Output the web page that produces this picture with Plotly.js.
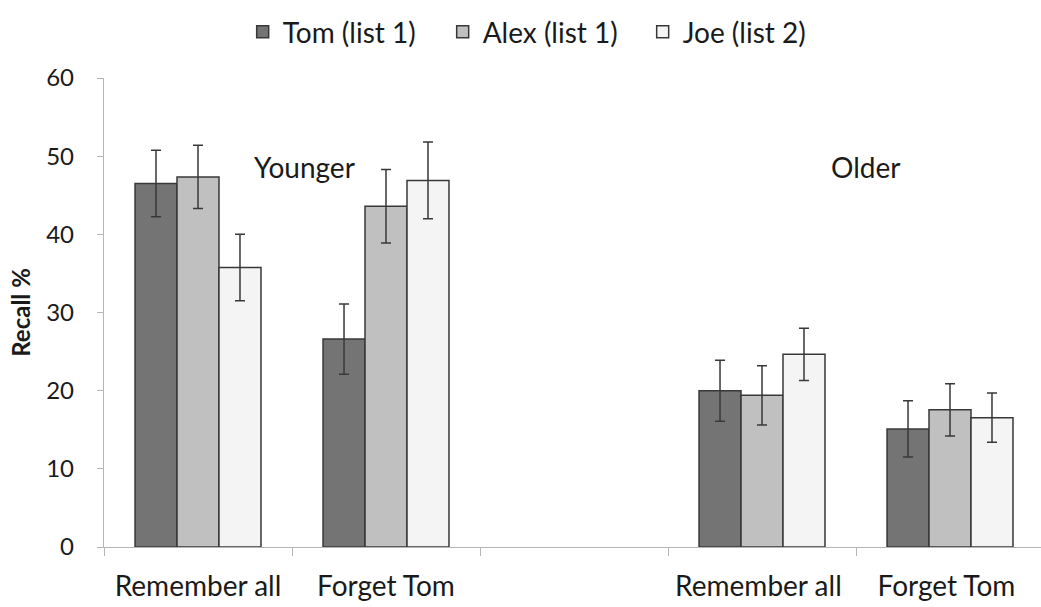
<!DOCTYPE html>
<html>
<head>
<meta charset="utf-8">
<script src="https://cdn.plot.ly/plotly-3.0.1.min.js"></script>
<style>html,body{margin:0;padding:0;background:#fff;}#chart{width:1041px;height:607px;}</style>
</head>
<body>
<div id="chart"></div>
<script>
// Categories (trailing spaces keep the repeated labels distinct; " " is the empty gap)
const categories = ["Remember all", "Forget Tom", " ", "Remember all ", "Forget Tom "];
const seriesNames = ["Tom (list 1)", "Alex (list 1)", "Joe (list 2)"];
const tomValues  = [46.5, 26.6, null, 20.0, 15.1];
const tomErrors  = [4.25, 4.5, null, 3.9, 3.6];
const alexValues = [47.35, 43.6, null, 19.4, 17.55];
const alexErrors = [4.05, 4.7, null, 3.8, 3.35];
const joeValues  = [35.75, 46.9, null, 24.65, 16.55];
const joeErrors  = [4.25, 4.9, null, 3.35, 3.15];
const groupLabels = ["Younger", "Older"];
const yTicks = [0, 10, 20, 30, 40, 50, 60];

const FONT = "Lato, 'Open Sans', sans-serif";
const colors = ["#747474", "#c0c0c0", "#f4f4f4"];
const vals = [tomValues, alexValues, joeValues];
const errs = [tomErrors, alexErrors, joeErrors];

const traces = seriesNames.map((name, i) => ({
  type: "bar",
  name: name,
  x: categories,
  y: vals[i],
  marker: {color: colors[i], line: {color: "#383838", width: 1.5}},
  error_y: {type: "data", array: errs[i], visible: true, color: "#383838", thickness: 1.5, width: 5},
  hoverinfo: "skip"
}));

const layout = {
  width: 1041, height: 607,
  margin: {l: 104, r: 0, t: 78, b: 60},
  paper_bgcolor: "#fff", plot_bgcolor: "#fff",
  barmode: "group", bargap: 0.33, bargroupgap: 0,
  font: {family: FONT, size: 28, color: "#1a1a1a"},
  showlegend: true,
  legend: {orientation: "h", x: 0.148, xanchor: "left", y: 1.098, yanchor: "middle",
           entrywidth: 155, entrywidthmode: "pixels",
           font: {family: FONT, size: 28, color: "#1a1a1a"}, itemwidth: 30, traceorder: "normal"},
  xaxis: {
    type: "category", categoryorder: "array", categoryarray: categories,
    range: [-0.5, 4.484], tickson: "boundaries", ticks: "outside", ticklen: 8,
    tickcolor: "#b5b5b5", showline: true, linecolor: "#b5b5b5", linewidth: 1.2,
    showgrid: false, zeroline: false, ticklabelstandoff: 14,
    tickfont: {family: FONT, size: 28, color: "#1a1a1a"}
  },
  yaxis: {
    range: [0, 60], tickvals: yTicks, ticks: "outside", ticklen: 6,
    tickcolor: "#b5b5b5", showline: true, linecolor: "#b5b5b5", linewidth: 1.2,
    showgrid: false, zeroline: false, ticklabelstandoff: 18,
    tickfont: {family: FONT, size: 24, color: "#1a1a1a"},
    title: {text: "<b>Recall %</b>", font: {family: FONT, size: 24, color: "#1a1a1a"}, standoff: 8}
  },
  annotations: [
    {text: groupLabels[0], x: 0.569, y: 48.6, xref: "x", yref: "y", showarrow: false,
     font: {family: FONT, size: 28, color: "#1a1a1a"}, xanchor: "center", yanchor: "middle"},
    {text: groupLabels[1], x: 3.553, y: 48.6, xref: "x", yref: "y", showarrow: false,
     font: {family: FONT, size: 28, color: "#1a1a1a"}, xanchor: "center", yanchor: "middle"}
  ]
};

Plotly.newPlot("chart", traces, layout, {displayModeBar: false, staticPlot: true});
</script>
</body>
</html>
